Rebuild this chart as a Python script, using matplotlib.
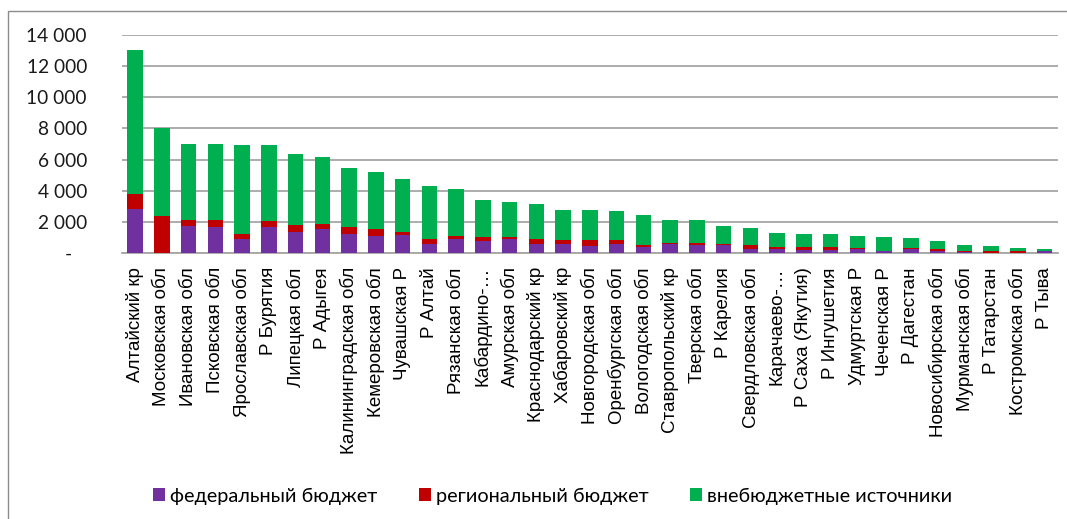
import numpy as np
import matplotlib
matplotlib.use("Agg")
import matplotlib.pyplot as plt
from matplotlib.patches import Rectangle

regions = [
    "Алтайский кр", "Московская обл", "Ивановская обл", "Псковская обл",
    "Ярославская обл", "Р Бурятия", "Липецкая обл", "Р Адыгея",
    "Калининградская обл", "Кемеровская обл", "Чувашская Р", "Р Алтай",
    "Рязанская обл", "Кабардино-…", "Амурская обл", "Краснодарский кр",
    "Хабаровский кр", "Новгородская обл", "Оренбургская обл", "Вологодская обл",
    "Ставропольский кр", "Тверская обл", "Р Карелия", "Свердловская обл",
    "Карачаево-…", "Р Саха (Якутия)", "Р Ингушетия", "Удмуртская Р",
    "Чеченская Р", "Р Дагестан", "Новосибирская обл", "Мурманская обл",
    "Р Татарстан", "Костромская обл", "Р Тыва",
]
federal = [2840, 0, 1750, 1660, 900, 1660, 1360, 1540, 1240, 1090, 1150, 620,
           920, 770, 900, 620, 620, 490, 620, 420, 580, 510, 510, 300, 300,
           230, 230, 260, 150, 250, 150, 100, 20, 40, 170]
regional = [960, 2390, 380, 470, 340, 400, 450, 360, 450, 470, 210, 280,
            190, 260, 130, 280, 210, 360, 230, 130, 80, 120, 80, 210, 90,
            150, 150, 60, 0, 70, 100, 60, 110, 120, 0]
offbudget = [9200, 5610, 4890, 4890, 5720, 4890, 4570, 4290, 3800, 3650, 3380,
             3390, 2990, 2400, 2280, 2280, 1940, 1920, 1860, 1900, 1480, 1480,
             1160, 1090, 910, 850, 850, 770, 870, 640, 550, 350, 320, 160, 90]
series_names = ["федеральный бюджет", "региональный бюджет", "внебюджетные источники"]
colors = ["#7030A0", "#C00000", "#00B050"]

fig = plt.figure(figsize=(10.67, 5.19), dpi=100)
ax = fig.add_axes([0.114, 0.512, 0.8776, 0.4211])

# chart-area frame (only top and left edges are visible in the crop)
fig.patches.append(Rectangle((8 / 1067, -0.1), 1.2, 1 - 11 / 519 + 0.1,
                             transform=fig.transFigure, fill=False,
                             edgecolor="#8c8c8c", linewidth=1.0))

x = np.arange(len(regions))
fed = np.array(federal)
reg = np.array(regional)
ext = np.array(offbudget)
w = 0.58
b1 = ax.bar(x, fed, w, color=colors[0], label=series_names[0], zorder=3)
b2 = ax.bar(x, reg, w, bottom=fed, color=colors[1], label=series_names[1], zorder=3)
b3 = ax.bar(x, ext, w, bottom=fed + reg, color=colors[2], label=series_names[2], zorder=3)

ax.set_xlim(-0.5, len(regions) - 0.5)
ax.set_ylim(0, 14000)
ax.set_yticks(np.arange(0, 14001, 2000))
ylabels = ["-   "] + [f"{v:,}".replace(",", " ") for v in range(2000, 14001, 2000)]
ax.set_yticklabels(ylabels, fontfamily="Lato", fontsize=13.8, color="#1a1a1a")
ax.tick_params(axis="y", length=0, pad=25)
ax.set_xticks(x)
ax.set_xticklabels(regions, rotation=90, fontfamily="Liberation Sans",
                   fontsize=13.5, va="top", ha="center")
ax.tick_params(axis="x", length=0, pad=10)

ax.grid(axis="y", color="#a6a6a6", linewidth=1.3, zorder=0)
for s in ["top", "right", "left"]:
    ax.spines[s].set_visible(False)
ax.spines["bottom"].set_color("#a6a6a6")
ax.spines["bottom"].set_linewidth(1.3)

fig.legend(handles=[b1, b2, b3], loc="center", bbox_to_anchor=(0.518, 0.044),
           ncol=3, frameon=False, handlelength=0.6, handleheight=0.6,
           handletextpad=0.25, columnspacing=2.1,
           prop={"family": "Lato", "size": 14.3})

fig.savefig("out.png", dpi=100)
